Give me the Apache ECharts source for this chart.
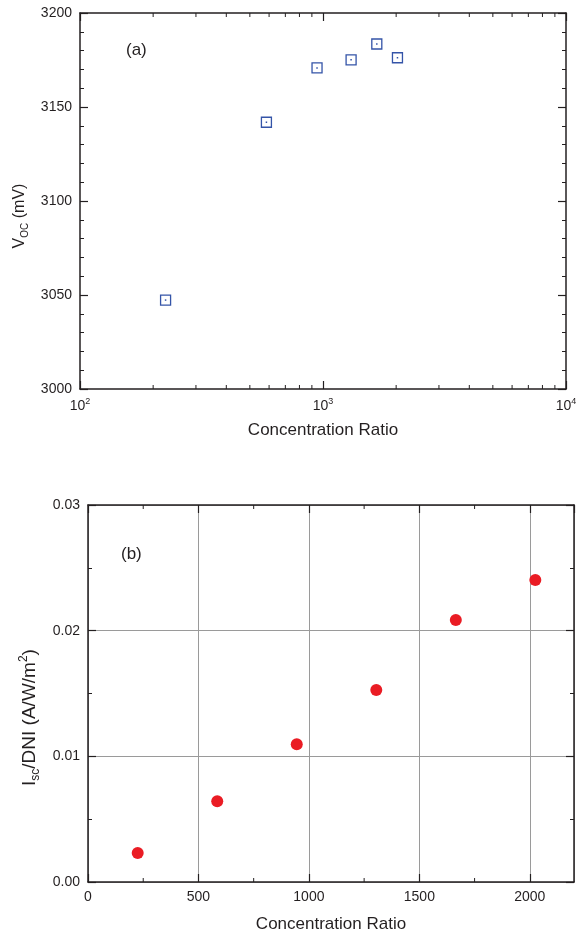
<!DOCTYPE html>
<html>
<head>
<meta charset="utf-8">
<script src="https://cdn.jsdelivr.net/npm/echarts@6/dist/echarts.min.js"></script>
<style>
  html, body { margin: 0; padding: 0; background: #fff; }
  #chart { width: 580px; height: 936px; }
</style>
</head>
<body>
<div id="chart"></div>
<script>
// Concentration ratios shared by both panels
const concentration = [225, 585, 945, 1305, 1665, 2025];
// Panel (a): open-circuit voltage, mV
const vocValues = [3047.3, 3141.9, 3170.8, 3175.1, 3183.5, 3176.2];
// Panel (b): short-circuit current per DNI, A/(W/m^2)
const iscValues = [0.00231, 0.00642, 0.01096, 0.01528, 0.02085, 0.02403];
// Minor tick positions for the logarithmic axis (2..9 per decade)
const logMinorTicks = [200, 300, 400, 500, 600, 700, 800, 900,
                       2000, 3000, 4000, 5000, 6000, 7000, 8000, 9000];
// Minor tick positions for the linear concentration axis
const linMinorTicks = [250, 750, 1250, 1750];

const INK = '#231f20';
const FONT = 'Liberation Sans, Arial, sans-serif';

const axisLine = { show: true, onZero: false, lineStyle: { color: INK, width: 1.5 } };
const majorTick = { show: true, inside: true, length: 8, lineStyle: { color: INK, width: 1.2 } };

function minorTickSeries(values, xIdx, yIdx, yRef) {
  return {
    type: 'custom',
    xAxisIndex: xIdx,
    yAxisIndex: yIdx,
    silent: true,
    clip: false,
    data: values.map(v => [v, yRef]),
    renderItem: function (params, api) {
      const x = api.coord([api.value(0), yRef])[0];
      const cs = params.coordSys;
      const bottom = cs.y + cs.height;
      const top = cs.y;
      return {
        type: 'group',
        children: [
          { type: 'line', shape: { x1: x, y1: bottom, x2: x, y2: bottom - 4 },
            style: { stroke: INK, lineWidth: 1 } },
          { type: 'line', shape: { x1: x, y1: top, x2: x, y2: top + 4 },
            style: { stroke: INK, lineWidth: 1 } }
        ]
      };
    }
  };
}

const chart = echarts.init(document.getElementById('chart'), null, { renderer: 'canvas' });

const option = {
  backgroundColor: '#fff',
  animation: false,
  textStyle: { fontFamily: FONT, color: INK },
  grid: [
    { left: 80, top: 13, width: 486, height: 376, containLabel: false },
    { left: 88, top: 505, width: 486, height: 377, containLabel: false }
  ],
  graphic: [
    { type: 'text', left: 126, top: 42,
      style: { text: '(a)', font: '17px ' + FONT, fill: INK } },
    { type: 'text', left: 121, top: 546,
      style: { text: '(b)', font: '17px ' + FONT, fill: INK } }
  ],
  xAxis: [
    {
      gridIndex: 0, type: 'log', logBase: 10, min: 100, max: 10000,
      position: 'bottom',
      name: 'Concentration Ratio', nameLocation: 'middle', nameGap: 33,
      nameTextStyle: { fontSize: 17, color: INK, fontFamily: FONT, verticalAlign: 'top' },
      axisLine: axisLine,
      axisTick: majorTick,
      splitLine: { show: false },
      axisLabel: {
        margin: 8, color: INK, fontFamily: FONT,
        formatter: v => '{n|10}{s|' + Math.round(Math.log10(v)) + '}',
        rich: {
          n: { fontSize: 14, color: INK, fontFamily: FONT, lineHeight: 18 },
          s: { fontSize: 9, color: INK, fontFamily: FONT, verticalAlign: 'top', lineHeight: 18 }
        }
      }
    },
    {
      gridIndex: 0, type: 'log', logBase: 10, min: 100, max: 10000,
      position: 'top',
      axisLine: axisLine,
      axisTick: majorTick,
      axisLabel: { show: false },
      splitLine: { show: false }
    },
    {
      gridIndex: 1, type: 'value', min: 0, max: 2200, interval: 500,
      position: 'bottom',
      name: 'Concentration Ratio', nameLocation: 'middle', nameGap: 34,
      nameTextStyle: { fontSize: 17, color: INK, fontFamily: FONT, verticalAlign: 'top' },
      axisLine: axisLine,
      axisTick: majorTick,
      axisLabel: { margin: 8, fontSize: 14, color: INK, fontFamily: FONT, showMaxLabel: false,
                   formatter: v => String(v) },
      splitLine: { show: true, lineStyle: { color: '#9a9a9a', width: 1 } }
    },
    {
      gridIndex: 1, type: 'value', min: 0, max: 2200, interval: 500,
      position: 'top',
      axisLine: axisLine,
      axisTick: majorTick,
      axisLabel: { show: false },
      splitLine: { show: false }
    }
  ],
  yAxis: [
    {
      gridIndex: 0, type: 'value', min: 3000, max: 3200, interval: 50,
      position: 'left',
      name: '{v|V}{sub|OC}{v| (mV)}', nameLocation: 'middle', nameGap: 50,
      nameTextStyle: {
        color: INK, fontFamily: FONT, padding: [0, 30, 0, 0],
        rich: {
          v: { fontSize: 16, color: INK, fontFamily: FONT, lineHeight: 20 },
          sub: { fontSize: 10, color: INK, fontFamily: FONT, verticalAlign: 'bottom', lineHeight: 20 }
        }
      },
      axisLine: axisLine,
      axisTick: majorTick,
      minorTick: { show: true, splitNumber: 5, length: 4, lineStyle: { color: INK, width: 1 } },
      axisLabel: { margin: 8, fontSize: 14, color: INK, fontFamily: FONT, formatter: v => String(v) },
      splitLine: { show: false }
    },
    {
      gridIndex: 0, type: 'value', min: 3000, max: 3200, interval: 50,
      position: 'right',
      axisLine: axisLine,
      axisTick: majorTick,
      minorTick: { show: true, splitNumber: 5, length: 4, lineStyle: { color: INK, width: 1 } },
      axisLabel: { show: false },
      splitLine: { show: false }
    },
    {
      gridIndex: 1, type: 'value', min: 0, max: 0.03, interval: 0.01,
      position: 'left',
      name: '{v|I}{sub|sc}{v|/DNI (A/W/m}{sup|2}{v|)}', nameLocation: 'middle', nameGap: 44,
      nameTextStyle: {
        color: INK, fontFamily: FONT, padding: [0, 48, 0, 0],
        rich: {
          v: { fontSize: 19, color: INK, fontFamily: FONT, lineHeight: 24 },
          sub: { fontSize: 12, color: INK, fontFamily: FONT, verticalAlign: 'bottom', lineHeight: 24 },
          sup: { fontSize: 12, color: INK, fontFamily: FONT, verticalAlign: 'top', lineHeight: 24 }
        }
      },
      axisLine: axisLine,
      axisTick: majorTick,
      minorTick: { show: true, splitNumber: 2, length: 4, lineStyle: { color: INK, width: 1 } },
      axisLabel: { margin: 8, fontSize: 14, color: INK, fontFamily: FONT,
                   formatter: v => v.toFixed(2) },
      splitLine: { show: true, lineStyle: { color: '#9a9a9a', width: 1 } }
    },
    {
      gridIndex: 1, type: 'value', min: 0, max: 0.03, interval: 0.01,
      position: 'right',
      axisLine: axisLine,
      axisTick: majorTick,
      minorTick: { show: true, splitNumber: 2, length: 4, lineStyle: { color: INK, width: 1 } },
      axisLabel: { show: false },
      splitLine: { show: false }
    }
  ],
  series: [
    {
      name: 'Voc',
      type: 'scatter', xAxisIndex: 0, yAxisIndex: 0,
      symbol: 'rect', symbolSize: 10,
      itemStyle: { color: 'rgba(0,0,0,0)', borderColor: '#3454a8', borderWidth: 1.3, opacity: 1 },
      data: concentration.map((c, i) => [c, vocValues[i]])
    },
    {
      name: 'Voc centre',
      type: 'scatter', xAxisIndex: 0, yAxisIndex: 0,
      symbol: 'rect', symbolSize: 1.5, silent: true,
      itemStyle: { color: '#3454a8', opacity: 1 },
      data: concentration.map((c, i) => [c, vocValues[i]])
    },
    {
      name: 'Isc/DNI',
      type: 'scatter', xAxisIndex: 2, yAxisIndex: 2,
      symbol: 'circle', symbolSize: 12,
      itemStyle: { color: '#ea1c24', opacity: 1 },
      data: concentration.map((c, i) => [c, iscValues[i]])
    },
    minorTickSeries(logMinorTicks, 0, 0, 3100),
    minorTickSeries(linMinorTicks, 2, 2, 0.015)
  ]
};

chart.setOption(option);
</script>
</body>
</html>
